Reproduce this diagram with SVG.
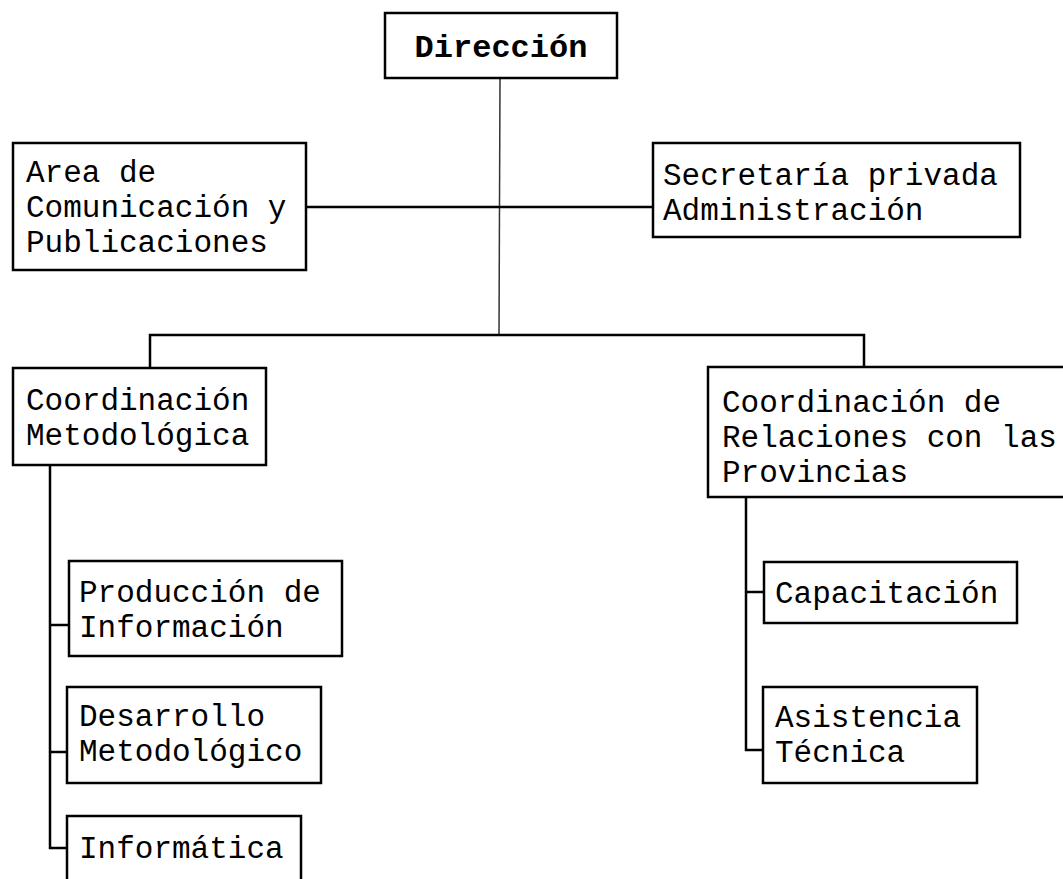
<svg xmlns="http://www.w3.org/2000/svg" width="1063" height="879" viewBox="0 0 1063 879">
<style>
.box{fill:#fff;stroke:#000;stroke-width:2.5}
.t{font-family:"Liberation Mono","Courier New",monospace;font-size:31px;fill:#000}
.b{font-weight:bold;font-size:32px}
.c{fill:none;stroke:#000;stroke-width:2.5}
.thin{fill:none;stroke:#333;stroke-width:1.5}
</style>
<rect width="1063" height="879" fill="#fff"/>
<g id="connectors">
<line class="thin" x1="500" y1="78" x2="499" y2="335"/>
<line class="c" x1="306" y1="207" x2="653" y2="207"/>
<polyline class="c" points="150,368 150,335 864,335 864,367"/>
<polyline class="c" points="50,465 50,848 67,848"/>
<line class="c" x1="50" y1="625" x2="69" y2="625"/>
<line class="c" x1="50" y1="752" x2="67" y2="752"/>
<polyline class="c" points="746,497 746,750 763,750"/>
<line class="c" x1="746" y1="592" x2="764" y2="592"/>
</g>
<g id="direccion">
<rect class="box" x="385" y="13" width="232" height="65"/>
<text class="t b" x="501" y="57" text-anchor="middle">Dirección</text>
</g>
<g id="area-comunicacion">
<rect class="box" x="13" y="143" width="293" height="127"/>
<text class="t" x="26" y="182">Area de</text>
<text class="t" x="26" y="217">Comunicación y</text>
<text class="t" x="26" y="252">Publicaciones</text>
</g>
<g id="secretaria">
<rect class="box" x="653" y="143" width="367" height="94"/>
<text class="t" x="663" y="185">Secretaría privada</text>
<text class="t" x="663" y="220">Administración</text>
</g>
<g id="coord-metodologica">
<rect class="box" x="13" y="368" width="253" height="97"/>
<text class="t" x="26" y="410">Coordinación</text>
<text class="t" x="26" y="445">Metodológica</text>
</g>
<g id="coord-relaciones">
<rect class="box" x="708" y="367" width="370" height="130"/>
<text class="t" x="722" y="412">Coordinación de</text>
<text class="t" x="722" y="447">Relaciones con las</text>
<text class="t" x="722" y="482">Provincias</text>
</g>
<g id="produccion">
<rect class="box" x="69" y="561" width="273" height="95"/>
<text class="t" x="79" y="602">Producción de</text>
<text class="t" x="79" y="637">Información</text>
</g>
<g id="desarrollo">
<rect class="box" x="67" y="687" width="254" height="96"/>
<text class="t" x="79" y="726">Desarrollo</text>
<text class="t" x="79" y="761">Metodológico</text>
</g>
<g id="informatica">
<rect class="box" x="67" y="816" width="234" height="80"/>
<text class="t" x="79" y="858">Informática</text>
</g>
<g id="capacitacion">
<rect class="box" x="764" y="562" width="253" height="61"/>
<text class="t" x="775" y="603">Capacitación</text>
</g>
<g id="asistencia">
<rect class="box" x="763" y="687" width="214" height="96"/>
<text class="t" x="775" y="727">Asistencia</text>
<text class="t" x="775" y="762">Técnica</text>
</g>
</svg>
